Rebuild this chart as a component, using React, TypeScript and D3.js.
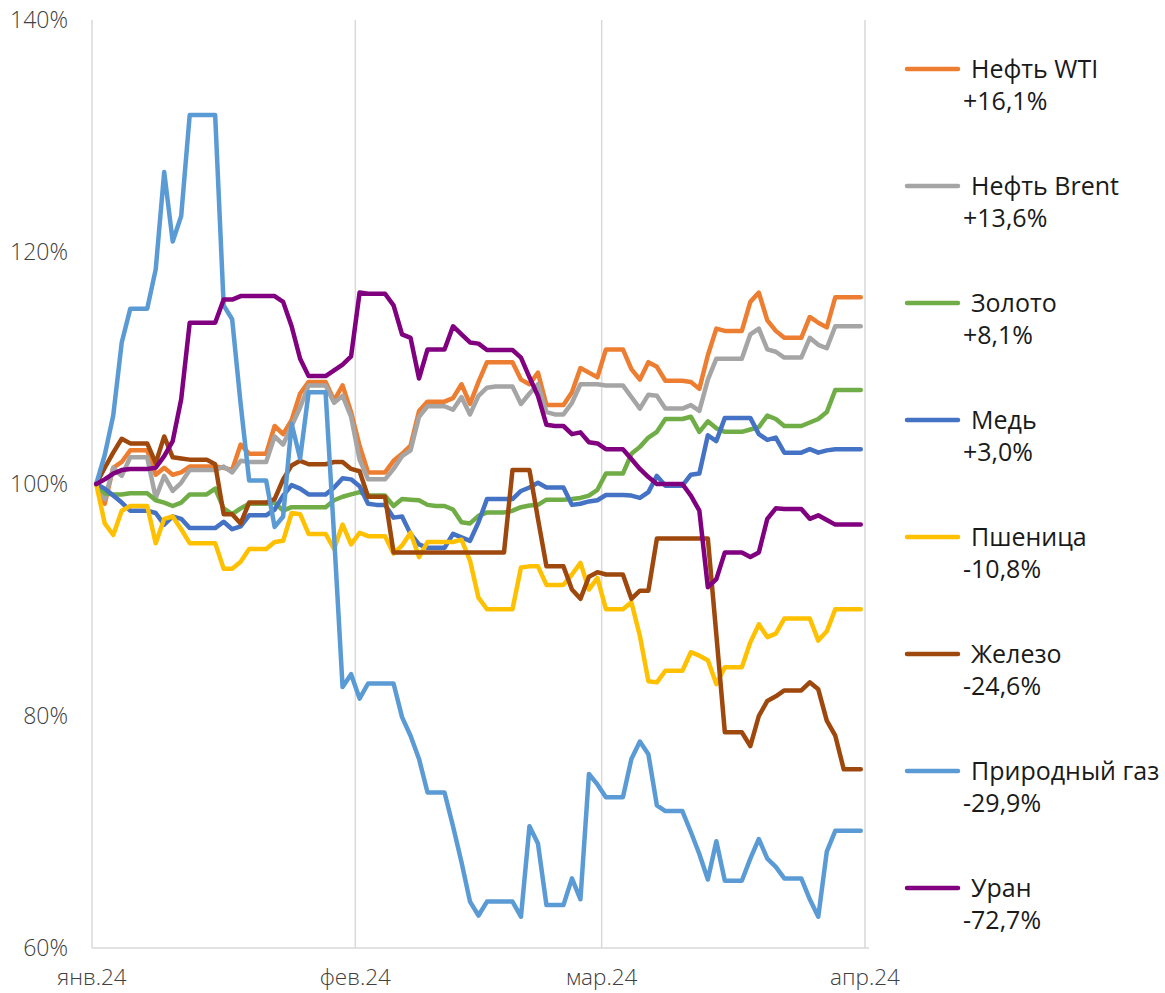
import React, { useEffect, useRef } from "react";
import * as d3 from "d3";

// daily values, Jan 1 .. Mar 31 2024 (weekends / holidays carry the last value), % of Jan 1
const startDate = new Date(2024, 0, 1);
const endDate = new Date(2024, 3, 1);

const wti = [
  100, 98.3, 101.4, 101.9, 102.9, 102.9, 102.9, 100.8, 101.4, 100.8, 101.0, 101.5, 101.5, 101.5, 101.5, 101.4,
  101.2, 103.4, 102.6, 102.6, 102.6, 105.0, 104.3, 105.5, 107.8, 108.8, 108.8, 108.8, 107.2, 108.5, 106.2,
  103.3, 101.0, 101.0, 101.0, 102.0, 102.6, 103.3, 106.3, 107.1, 107.1, 107.1, 107.4, 108.6, 106.9, 108.8,
  110.5, 110.5, 110.5, 110.5, 109.0, 108.6, 109.6, 106.8, 106.8, 106.8, 107.9, 110.0, 109.6, 109.2,
  111.6, 111.6, 111.6, 109.9, 109.0, 110.5, 110.1, 108.9, 108.9, 108.9, 108.8, 108.2, 111.1, 113.4, 113.2,
  113.2, 113.2, 115.7, 116.5, 114.1, 113.2, 112.6, 112.6, 112.6, 114.4, 113.9, 113.5, 116.1, 116.1, 116.1, 116.1,
];
const brent = [
  100, 98.7, 101.4, 100.7, 102.3, 102.3, 102.3, 98.8, 100.7, 99.4, 100.1, 101.2, 101.2, 101.2, 101.2, 101.5,
  101.0, 102.0, 101.9, 101.9, 101.9, 104.1, 103.4, 105.0, 106.6, 108.5, 108.5, 108.5, 107.0, 107.6, 105.8,
  102.1, 100.4, 100.4, 100.4, 101.3, 102.4, 102.9, 105.8, 106.7, 106.7, 106.7, 106.4, 107.5, 106.0, 107.6,
  108.3, 108.4, 108.4, 108.4, 106.9, 107.8, 108.6, 106.2, 106.0, 106.0, 107.0, 108.6, 108.6, 108.6,
  108.5, 108.5, 108.5, 107.5, 106.5, 107.7, 107.6, 106.5, 106.5, 106.5, 106.8, 106.3, 109.0, 110.8, 110.8,
  110.8, 110.8, 112.9, 113.4, 111.6, 111.4, 110.9, 110.9, 110.9, 112.6, 112.0, 111.7, 113.6, 113.6, 113.6, 113.6,
];
const gold = [
  100, 99.2, 99.1, 99.1, 99.2, 99.2, 99.2, 98.6, 98.4, 98.1, 98.4, 99.1, 99.1, 99.1, 99.6, 97.9,
  97.4, 97.9, 98.3, 98.3, 98.3, 98.4, 97.7, 98.0, 98.0, 98.0, 98.0, 98.0, 98.6, 98.9, 99.1,
  99.3, 99.0, 99.0, 99.0, 98.1, 98.7, 98.65, 98.6, 98.2, 98.1, 98.1, 97.8, 96.7, 96.6, 97.25,
  97.55, 97.55, 97.55, 97.7, 98.0, 98.15, 98.2, 98.65, 98.65, 98.65, 98.7, 98.8, 99.0, 99.5,
  100.9, 100.9, 100.9, 102.6, 103.2, 104.0, 104.5, 105.6, 105.6, 105.6, 105.8, 104.5, 105.4, 104.8, 104.5,
  104.5, 104.5, 104.7, 104.9, 105.9, 105.6, 105.0, 105.0, 105.0, 105.3, 105.6, 106.2, 108.1, 108.1, 108.1, 108.1,
];
const copper = [
  100, 99.6, 99.0, 98.4, 97.7, 97.7, 97.7, 97.5, 96.5, 97.2, 97.0, 96.2, 96.2, 96.2, 96.2, 96.75,
  96.1, 96.35, 97.3, 97.3, 97.3, 97.8, 99.0, 99.9, 99.6, 99.1, 99.1, 99.1, 99.7, 100.5, 100.4,
  99.8, 98.3, 98.2, 98.2, 97.1, 97.2, 95.7, 94.8, 94.5, 94.5, 94.5, 95.7, 95.4, 95.1, 96.7,
  98.7, 98.7, 98.7, 98.7, 99.4, 99.7, 100.1, 99.7, 99.7, 99.7, 98.2, 98.3, 98.5, 98.6,
  99.05, 99.05, 99.05, 99.0, 98.8, 99.3, 100.7, 99.85, 99.85, 99.85, 100.8, 100.9, 104.2, 103.7, 105.7,
  105.7, 105.7, 105.7, 104.3, 103.8, 104.0, 102.7, 102.7, 102.7, 103.0, 102.7, 102.9, 103.0, 103.0, 103.0, 103.0,
];
const wheat = [
  100, 96.6, 95.6, 97.7, 98.1, 98.1, 98.1, 94.9, 97.0, 97.2, 96.1, 94.9, 94.9, 94.9, 94.9, 92.7,
  92.7, 93.3, 94.4, 94.4, 94.4, 95.0, 95.1, 97.5, 97.4, 95.7, 95.7, 95.7, 94.4, 96.5, 94.8,
  95.8, 95.5, 95.5, 95.5, 94.0, 94.7, 95.8, 93.7, 95.0, 95.0, 95.0, 95.0, 95.2, 93.4, 90.2,
  89.2, 89.2, 89.2, 89.2, 92.8, 92.9, 92.9, 91.3, 91.3, 91.3, 92.2, 93.2, 90.9, 91.9,
  89.2, 89.2, 89.2, 89.8, 86.9, 83.0, 82.9, 83.9, 83.9, 83.9, 85.5, 85.2, 84.8, 82.75, 84.2,
  84.2, 84.2, 86.35, 87.9, 86.8, 87.1, 88.4, 88.4, 88.4, 88.4, 86.5, 87.3, 89.2, 89.2, 89.2, 89.2,
];
const iron = [
  100, 101.4, 102.7, 103.9, 103.5, 103.5, 103.5, 101.8, 104.1, 102.3, 102.2, 102.1, 102.1, 102.1, 101.7, 97.4,
  97.4, 96.6, 98.4, 98.4, 98.4, 98.7, 100.4, 101.6, 102.0, 101.7, 101.7, 101.7, 101.9, 101.9, 101.3,
  101.1, 98.9, 98.9, 98.9, 94.1, 94.1, 94.1, 94.1, 94.1, 94.1, 94.1, 94.1, 94.1, 94.1, 94.1,
  94.1, 94.1, 94.1, 101.2, 101.2, 101.2, 97.0, 92.9, 92.9, 92.9, 90.9, 90.1, 92.0, 92.4,
  92.2, 92.2, 92.2, 90.1, 90.8, 90.8, 95.3, 95.3, 95.3, 95.3, 95.3, 95.3, 95.3, 87.0, 78.6,
  78.6, 78.6, 77.4, 80.0, 81.3, 81.7, 82.2, 82.2, 82.2, 82.9, 82.3, 79.6, 78.3, 75.4, 75.4, 75.4,
];
const gas = [
  100, 102.5, 105.9, 112.2, 115.1, 115.1, 115.1, 118.5, 126.9, 120.9, 123.1, 131.8, 131.8, 131.8, 131.8, 115.4,
  114.2, 106.9, 100.3, 100.3, 100.3, 96.3, 97.2, 105.2, 102.2, 107.9, 107.9, 107.9, 95.5, 82.5, 83.6,
  81.5, 82.8, 82.8, 82.8, 82.8, 79.9, 78.3, 76.3, 73.4, 73.4, 73.4, 70.5, 67.4, 64.0, 62.8,
  64.0, 64.0, 64.0, 64.0, 62.7, 70.5, 69.0, 63.7, 63.7, 63.7, 66.0, 64.2, 75.0, 74.1,
  73.0, 73.0, 73.0, 76.3, 77.8, 76.7, 72.3, 71.8, 71.8, 71.8, 70.0, 68.1, 65.9, 69.2, 65.8,
  65.8, 65.8, 67.7, 69.4, 67.7, 67.0, 66.0, 66.0, 66.0, 64.2, 62.7, 68.3, 70.1, 70.1, 70.1, 70.1,
];
const uranium = [
  100, 100.4, 100.9, 101.2, 101.3, 101.3, 101.3, 101.4, 102.4, 103.7, 107.3, 113.9, 113.9, 113.9, 113.9, 115.9,
  115.9, 116.2, 116.2, 116.2, 116.2, 116.2, 115.7, 113.6, 110.8, 109.3, 109.3, 109.3, 109.8, 110.3, 111.0,
  116.5, 116.4, 116.4, 116.4, 115.4, 112.9, 112.6, 109.1, 111.6, 111.6, 111.6, 113.6, 112.9, 112.2, 112.1,
  111.55, 111.55, 111.55, 111.55, 110.9, 109.2, 107.6, 105.1, 105.0, 105.0, 104.3, 104.45, 103.6, 103.5,
  103.0, 103.0, 103.0, 102.15, 101.3, 100.6, 100.0, 100.0, 100.0, 100.0, 99.0, 97.7, 91.1, 91.8, 94.1,
  94.1, 94.1, 93.7, 94.1, 97.0, 97.9, 97.85, 97.85, 97.85, 97.0, 97.3, 96.9, 96.5, 96.5, 96.5, 96.5,
];

const seriesNames = ["Нефть WTI", "Нефть Brent", "Золото", "Медь", "Пшеница", "Железо", "Природный газ", "Уран"];
const seriesChanges = ["+16,1%", "+13,6%", "+8,1%", "+3,0%", "-10,8%", "-24,6%", "-29,9%", "-72,7%"];
const seriesValues = [wti, brent, gold, copper, wheat, iron, gas, uranium];
const colors = ["#ED7D31", "#A5A5A5", "#70AD47", "#4472C4", "#FFC000", "#9E480E", "#5B9BD5", "#800080"];

const yTicks = [60, 80, 100, 120, 140];
const monthLabels = ["янв.24", "фев.24", "мар.24", "апр.24"];

const FONT = "'Open Sans', 'Noto Sans', sans-serif";

const App = () => {
  const ref = useRef<SVGSVGElement | null>(null);

  useEffect(() => {
    const svg = d3.select(ref.current);
    svg.selectAll("*").remove();

    const x = d3.scaleTime().domain([startDate, endDate]).range([92, 865]);
    const y = d3.scaleLinear().domain([60, 140]).range([948, 20]);

    const months = d3.timeMonth.range(startDate, d3.timeDay.offset(endDate, 1));

    // vertical gridlines at month starts
    svg
      .append("g")
      .selectAll("line")
      .data(months)
      .enter()
      .append("line")
      .attr("x1", (d) => x(d))
      .attr("x2", (d) => x(d))
      .attr("y1", y(140))
      .attr("y2", y(60))
      .attr("stroke", "#D9D9D9")
      .attr("stroke-width", 1.5);

    // bottom axis line
    svg
      .append("line")
      .attr("x1", x(startDate))
      .attr("x2", x(endDate) + 4)
      .attr("y1", y(60))
      .attr("y2", y(60))
      .attr("stroke", "#D9D9D9")
      .attr("stroke-width", 1.5);

    // y labels
    svg
      .append("g")
      .selectAll("text")
      .data(yTicks)
      .enter()
      .append("text")
      .attr("x", 68)
      .attr("y", (d) => y(d))
      .attr("dy", "0.35em")
      .attr("text-anchor", "end")
      .attr("font-family", FONT)
      .attr("font-weight", 300)
      .attr("font-size", 23)
      .attr("fill", "#404040")
      .text((d) => `${d}%`);

    // x labels
    svg
      .append("g")
      .selectAll("text")
      .data(months)
      .enter()
      .append("text")
      .attr("x", (d) => x(d))
      .attr("y", 985)
      .attr("text-anchor", "middle")
      .attr("font-family", FONT)
      .attr("font-weight", 300)
      .attr("font-size", 22.5)
      .attr("fill", "#404040")
      .text((d, i) => monthLabels[i]);

    // each daily value sits in the middle of its day
    const line = d3
      .line<number>()
      .x((d, i) => x(d3.timeHour.offset(d3.timeDay.offset(startDate, i), 12)))
      .y((d) => y(d));

    svg
      .append("g")
      .selectAll("path")
      .data(seriesValues)
      .enter()
      .append("path")
      .attr("d", (d) => line(d))
      .attr("fill", "none")
      .attr("stroke", (d, i) => colors[i])
      .attr("stroke-width", 4.5)
      .attr("stroke-linejoin", "round")
      .attr("stroke-linecap", "round");

    // legend
    const legend = svg
      .append("g")
      .selectAll("g")
      .data(seriesNames)
      .enter()
      .append("g")
      .attr("transform", (d, i) => `translate(0,${69 + i * 117})`);

    legend
      .append("line")
      .attr("x1", 907)
      .attr("x2", 958)
      .attr("stroke", (d, i) => colors[i])
      .attr("stroke-width", 4.5)
      .attr("stroke-linecap", "round");

    legend
      .append("text")
      .attr("x", 971)
      .attr("y", 9)
      .attr("font-family", FONT)
      .attr("font-size", 25)
      .attr("fill", "#1a1a1a")
      .text((d) => d);

    legend
      .append("text")
      .attr("x", 963)
      .attr("y", 41)
      .attr("font-family", FONT)
      .attr("font-size", 25)
      .attr("fill", "#1a1a1a")
      .text((d, i) => seriesChanges[i]);
  }, []);

  return (
    <svg
      ref={ref}
      width={1165}
      height={993}
      style={{ position: "absolute", left: 0, top: 0, background: "#fff" }}
    />
  );
};

export default App;
